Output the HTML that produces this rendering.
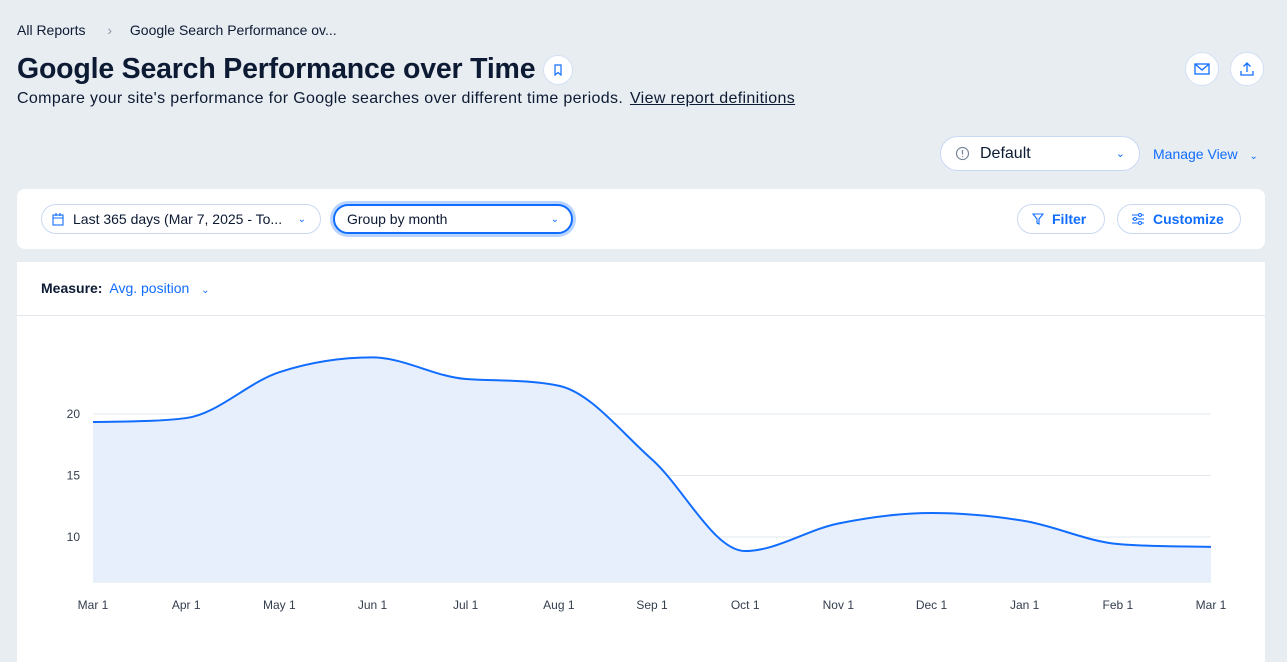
<!DOCTYPE html>
<html><head><meta charset="utf-8">
<style>
*{box-sizing:border-box;margin:0;padding:0}
body{width:1287px;height:641px;overflow:hidden;background:#e8edf1;font-family:"Liberation Sans",sans-serif;color:#0d1a33;position:relative}
.abs{position:absolute}
.pill{position:absolute;border:1px solid #c9d9f2;border-radius:20px;background:#fff;display:flex;align-items:center}
.blue{color:#116dff}
.circ{position:absolute;width:34px;height:34px;border-radius:50%;background:#fff;border:1px solid #d3e0f5;display:flex;align-items:center;justify-content:center}
</style></head><body>
<div class="abs" style="left:17px;top:22px;font-size:14px;white-space:nowrap">
<span>All Reports</span>
<span style="color:#8a96a8;margin:0 14px 0 18px">›</span>
<span>Google Search Performance ov...</span></div>
<div class="abs" style="left:17px;top:53px;font-size:28.5px;font-weight:bold;letter-spacing:-0.2px;white-space:nowrap">Google Search Performance over Time</div>
<div class="circ" style="left:543px;top:55px;width:30px;height:30px"><svg width="10" height="12"><path d="M2 1h6v10l-3-2.5L2 11z" fill="none" stroke="#116dff" stroke-width="1.2"/></svg></div>
<div class="abs" style="left:17px;top:90px;font-size:16px;letter-spacing:0.35px;white-space:nowrap">Compare your site's performance for Google searches over different time periods. <span style="text-decoration:underline;margin-left:2px">View report definitions</span></div>
<div class="circ" style="left:1185px;top:52px"><svg width="16" height="12"><rect x="1" y="1" width="14" height="10" fill="none" stroke="#116dff" stroke-width="1.3"/><path d="M1 1l7 6 7-6" fill="none" stroke="#116dff" stroke-width="1.3"/></svg></div>
<div class="circ" style="left:1230px;top:52px"><svg width="16" height="16"><path d="M8 11V2M4.5 5.5L8 2l3.5 3.5M2 10v4h12v-4" fill="none" stroke="#116dff" stroke-width="1.3"/></svg></div>
<div class="pill" style="left:940px;top:136px;width:200px;height:35px;padding-left:14px;font-size:16px">
<svg width="15" height="15"><circle cx="7.5" cy="7.5" r="6" fill="none" stroke="#7a8699" stroke-width="1.2"/><path d="M7.5 4v4.5M7.5 10v1" stroke="#7a8699" stroke-width="1.3"/></svg>
<span style="margin-left:10px">Default</span><span class="blue" style="position:absolute;right:14px;font-size:11px">⌄</span></div>
<div class="abs blue" style="left:1153px;top:146px;font-size:14px;white-space:nowrap">Manage View <span style="margin-left:8px;font-size:10px">⌄</span></div>
<div class="abs" style="left:17px;top:189px;width:1248px;height:60px;background:#fff;border-radius:8px"></div>
<div class="pill" style="left:41px;top:204px;width:280px;height:30px;padding-left:10px;font-size:14px">
<svg width="12" height="13"><rect x="1" y="2" width="10" height="10" fill="none" stroke="#116dff" stroke-width="1.1"/><path d="M1 5h10M4 0v3M8 0v3" stroke="#116dff" stroke-width="1.1"/></svg>
<span style="margin-left:9px">Last 365 days (Mar 7, 2025 - To...</span><span class="blue" style="position:absolute;right:14px;font-size:10px">⌄</span></div>
<div class="pill" style="left:333px;top:204px;width:240px;height:30px;padding-left:12px;font-size:14px;border:2px solid #116dff;box-shadow:0 0 0 3px #b9d4ff">
<span>Group by month</span><span class="blue" style="position:absolute;right:12px;font-size:10px">⌄</span></div>
<div class="pill blue" style="left:1017px;top:204px;width:88px;height:30px;padding-left:14px;font-size:14px;font-weight:bold">
<svg width="12" height="12"><path d="M1 1h10L7 6v5L5 10V6z" fill="none" stroke="#116dff" stroke-width="1.1"/></svg><span style="margin-left:8px">Filter</span></div>
<div class="pill blue" style="left:1117px;top:204px;width:124px;height:30px;padding-left:13px;font-size:14px;font-weight:bold">
<svg width="14" height="12"><path d="M1 2h12M1 6h12M1 10h12" stroke="#116dff" stroke-width="1.1"/><circle cx="9" cy="2" r="1.5" fill="#fff" stroke="#116dff"/><circle cx="4" cy="6" r="1.5" fill="#fff" stroke="#116dff"/><circle cx="9" cy="10" r="1.5" fill="#fff" stroke="#116dff"/></svg><span style="margin-left:8px">Customize</span></div>
<div class="abs" style="left:17px;top:262px;width:1248px;height:400px;background:#fff"></div>
<div class="abs" style="left:41px;top:280px;font-size:14px;white-space:nowrap"><b style="font-weight:600">Measure:</b> <span class="blue" style="margin-left:3px">Avg. position</span> <span class="blue" style="margin-left:8px;font-size:10px">⌄</span></div>
<div class="abs" style="left:17px;top:315px;width:1248px;height:1px;background:#e3e8ee"></div>
<svg class="abs" id="chart" style="left:0;top:0" width="1287" height="641"></svg>
<script>
const categories=["Mar 1","Apr 1","May 1","Jun 1","Jul 1","Aug 1","Sep 1","Oct 1","Nov 1","Dec 1","Jan 1","Feb 1","Mar 1"];
const values=[19.35,19.67,23.4,24.6,22.85,22.3,16.3,8.86,11.1,11.95,11.3,9.43,9.2];
const yTicks=[10,15,20];
const NS="http://www.w3.org/2000/svg",svg=document.getElementById('chart');
const x0=93,x1=1211,yBase=582;
const xs=i=>x0+(x1-x0)*i/(categories.length-1);
const ys=v=>537-(v-10)*12.3;
function mk(t,a,p){const e=document.createElementNS(NS,t);for(const k in a)e.setAttribute(k,a[k]);(p||svg).appendChild(e);return e;}
yTicks.forEach(t=>{
 const g=mk('line',{x1:x0,x2:x1,y1:ys(t),y2:ys(t),stroke:'#e3e8ee','stroke-width':1});
 
 
 const l=mk('text',{x:80,y:ys(t)+4,'text-anchor':'end','font-size':12,fill:'#333d4d','font-family':'Liberation Sans'});
 l.textContent=t;
 
 
});
const bl=mk('line',{x1:x0,x2:x1,y1:yBase,y2:yBase,stroke:'#e3e8ee'});


const P=values.map((v,i)=>[xs(i),ys(v)]);
const n=P.length,d=[],m=[];
for(let i=0;i<n-1;i++)d.push((P[i+1][1]-P[i][1])/(P[i+1][0]-P[i][0]));
for(let i=0;i<n;i++){if(i==0)m.push(d[0]);else if(i==n-1)m.push(d[n-2]);else m.push(d[i-1]*d[i]<=0?0:(d[i-1]+d[i])/2);}
for(let i=0;i<n-1;i++){if(d[i]==0){m[i]=m[i+1]=0;continue;}const a=m[i]/d[i],b=m[i+1]/d[i],s=a*a+b*b;if(s>9){const t=3/Math.sqrt(s);m[i]=t*a*d[i];m[i+1]=t*b*d[i];}}
let path='M'+P[0][0]+','+P[0][1];
for(let i=0;i<n-1;i++){const h=(P[i+1][0]-P[i][0])/3;path+=` C${P[i][0]+h},${P[i][1]+m[i]*h} ${P[i+1][0]-h},${P[i+1][1]-m[i+1]*h} ${P[i+1][0]},${P[i+1][1]}`;}
const area=mk('path',{d:path+` L${x1},${yBase} L${x0},${yBase} Z`,fill:'#e8effc'});


const line=mk('path',{d:path,fill:'none',stroke:'#116dff','stroke-width':2});


categories.forEach((c,i)=>{
 const t=mk('text',{x:xs(i),y:609,'text-anchor':'middle','font-size':12,fill:'#333d4d','font-family':'Liberation Sans'});
 t.textContent=c;
 
 
});
</script>
</body></html>
